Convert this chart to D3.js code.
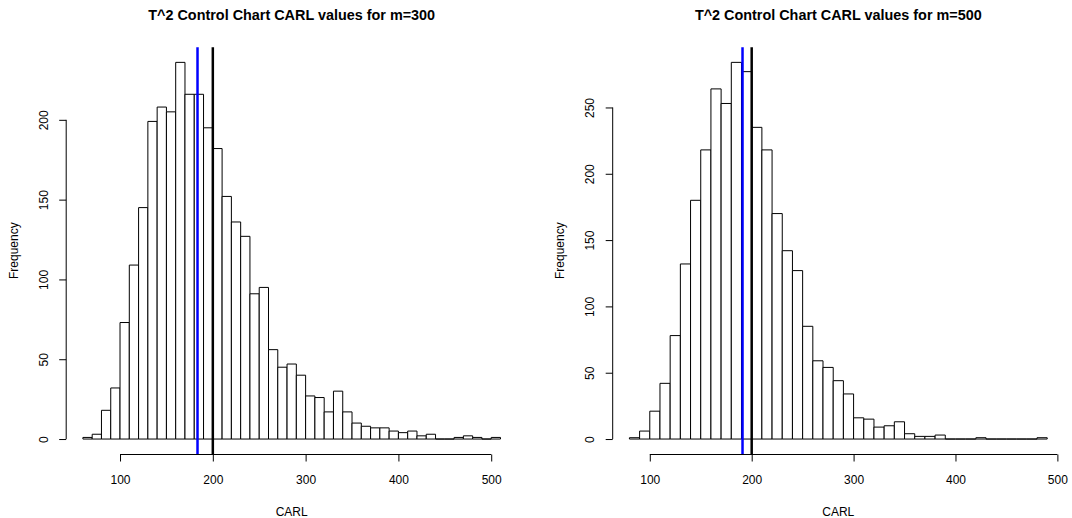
<!DOCTYPE html>
<html>
<head>
<meta charset="utf-8">
<script src="https://cdn.jsdelivr.net/npm/d3@7"></script>
<style>
  body { margin: 0; background: #fff; }
  svg { display: block; font-family: "Liberation Sans", Arial, Helvetica, sans-serif; }
</style>
</head>
<body>
<svg id="canvas" width="1072" height="518"></svg>
<script>
// histogram breaks start + width, counts
let leftStart = 60
let rightStart = 80
let binWidth = 10

let leftCounts = [1, 3, 18, 32, 73, 109, 145, 199, 208, 205, 236, 216, 216, 195, 182, 152, 136, 127, 91, 95,
    56, 45, 47, 40, 27, 26, 17, 30, 17, 10, 8, 7, 7, 5, 4, 5, 2, 3, 0, 0, 1, 2, 1, 0, 1]
let rightCounts = [1, 6, 21, 42, 78, 132, 180, 218, 264, 253, 284, 277, 235, 218, 170, 142, 127, 85, 59, 54,
    44, 34, 16, 15, 9, 10, 13, 4, 2, 2, 3, 0, 0, 0, 1, 0, 0, 0, 0, 0, 1]

let xTicks = [100, 200, 300, 400, 500]
let leftYTicks = [0, 50, 100, 150, 200]
let rightYTicks = [0, 50, 100, 150, 200, 250]

let leftMean = 183.5
let rightMean = 191
let targetARL = 200

let leftTitle = "T^2 Control Chart CARL values for m=300"
let rightTitle = "T^2 Control Chart CARL values for m=500"

let canvas = d3.select("#canvas")

let drawHist = (opts) => {
    let counts = opts.counts
    let bins = counts.map((c, i) => ({x0: opts.start + i * binWidth, x1: opts.start + (i + 1) * binWidth, n: c}))

    // R style 4% extension of the ranges
    let xMin = bins[0].x0, xMax = bins[bins.length - 1].x1
    let xPad = (xMax - xMin) * 0.04
    let yMax = d3.max(counts)
    let yPad = yMax * 0.04

    let x = d3.scaleLinear().domain([xMin - xPad, xMax + xPad]).range([opts.left, opts.right])
    let y = d3.scaleLinear().domain([-yPad, yMax + yPad]).range([454.1, 47.3])

    let g = canvas.append("g")

    // paths instead of rects so empty bins still show as a flat line like R does
    g.selectAll("path.bar")
        .data(bins)
        .enter()
        .append("path")
        .attr("class", "bar")
        .attr("d", (d) => `M${x(d.x0)},${y(0)}H${x(d.x1)}V${y(d.n)}H${x(d.x0)}Z`)
        .attr("fill", "white")
        .attr("stroke", "black")
        .attr("stroke-width", 1)

    // vertical reference lines
    g.append("line")
        .attr("x1", x(opts.mean)).attr("x2", x(opts.mean))
        .attr("y1", 47.3).attr("y2", 454.1)
        .attr("stroke", "#0000ff").attr("stroke-width", 2.5)
    g.append("line")
        .attr("x1", x(targetARL)).attr("x2", x(targetARL))
        .attr("y1", 47.3).attr("y2", 454.1)
        .attr("stroke", "black").attr("stroke-width", 2.5)

    // x axis
    let xAxis = d3.axisBottom(x).tickValues(xTicks).tickSize(7).tickSizeOuter(0).tickPadding(0)
    let gx = g.append("g").attr("transform", "translate(0,454.5)").call(xAxis)
    gx.select(".domain").remove()
    gx.append("line")
        .attr("x1", x(xTicks[0])).attr("x2", x(xTicks[xTicks.length - 1]))
        .attr("stroke", "black")
    gx.selectAll(".tick text")
        .attr("y", 29.5)
        .attr("dy", null)
        .style("font-size", "12px")
        .attr("fill", "black")
    gx.selectAll(".tick line").attr("stroke", "black")

    // y axis
    let yAxis = d3.axisLeft(y).tickValues(opts.yTicks).tickSize(7).tickSizeOuter(0)
    let gy = g.append("g").attr("transform", `translate(${opts.left},0)`).call(yAxis)
    gy.select(".domain").remove()
    gy.append("line")
        .attr("y1", y(opts.yTicks[0])).attr("y2", y(opts.yTicks[opts.yTicks.length - 1]))
        .attr("stroke", "black")
    gy.selectAll(".tick line").attr("stroke", "black")
    gy.selectAll(".tick text")
        .attr("x", null).attr("dy", null)
        .attr("transform", "translate(-18.6,0) rotate(-90)")
        .attr("text-anchor", "middle")
        .style("font-size", "12px")
        .attr("fill", "black")

    // labels
    let cx = (opts.left + opts.right) / 2
    g.append("text")
        .attr("x", cx).attr("y", 20)
        .attr("text-anchor", "middle")
        .style("font-size", "14.4px")
        .style("font-weight", "bold")
        .text(opts.title)
    g.append("text")
        .attr("x", cx).attr("y", 515.5)
        .attr("text-anchor", "middle")
        .style("font-size", "12px")
        .text("CARL")
    g.append("text")
        .attr("transform", `translate(${opts.left - 48.7},${(47.3 + 454.1) / 2}) rotate(-90)`)
        .attr("text-anchor", "middle")
        .style("font-size", "12px")
        .text("Frequency")
}

drawHist({counts: leftCounts, start: leftStart, yTicks: leftYTicks, mean: leftMean,
    title: leftTitle, left: 66.2, right: 517.2})
drawHist({counts: rightCounts, start: rightStart, yTicks: rightYTicks, mean: rightMean,
    title: rightTitle, left: 612.7, right: 1063.9})
</script>
</body>
</html>
